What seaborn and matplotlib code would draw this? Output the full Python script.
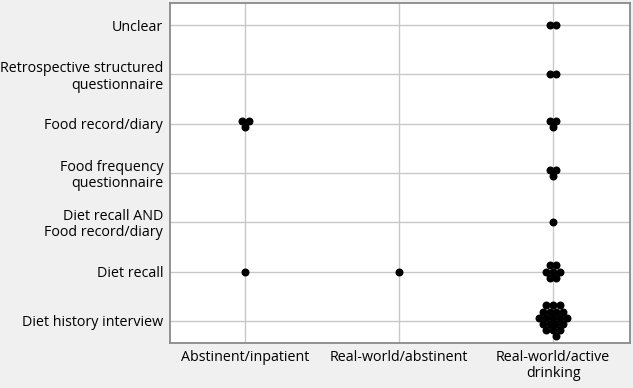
import numpy as np
import pandas as pd
import matplotlib
matplotlib.use("Agg")
import matplotlib.pyplot as plt
import seaborn as sns

# ---- data ----
settings = ["Abstinent/inpatient", "Real-world/abstinent", "Real-world/active\ndrinking"]
methods = [
    "Unclear",
    "Retrospective structured\nquestionnaire",
    "Food record/diary",
    "Food frequency\nquestionnaire",
    "Diet recall AND\nFood record/diary",
    "Diet recall",
    "Diet history interview",
]
count_abstinent_inpatient = [0, 0, 3, 0, 0, 1, 0]
count_realworld_abstinent = [0, 0, 0, 0, 0, 1, 0]
count_realworld_active = [2, 2, 3, 3, 1, 7, 20]
counts = [count_abstinent_inpatient, count_realworld_abstinent, count_realworld_active]

# ---- hexagonal packing layout (like a 2-D beeswarm) ----
def hex_sites(n):
    pts = []
    for r in range(-6, 7):
        for c in range(-6, 7):
            x = c + (0.5 if r % 2 else 0.0)
            y = r * np.sqrt(3) / 2
            pts.append((x, y))

    def key(p):
        d = round(np.hypot(*p), 3)
        if d < 1.5:
            return (d, round(np.degrees(np.arctan2(p[1], p[0])) % 360, 3), 0)
        return (d, -round(p[1], 3), -p[0])

    pts.sort(key=key)
    sel = np.array(pts[:n]) if n else np.zeros((0, 2))
    if n:
        # centre the cluster on its bounding box
        sel = sel - (sel.max(axis=0) + sel.min(axis=0)) / 2
    return sel

PX_X = 154.0   # pixels per x category
PX_Y = 49.0    # pixels per y category
SP_X = 6.8     # horizontal pixels between dot centers
SP_Y = 7.1     # lattice unit vertically (row spacing = SP_Y * 0.866)

rows = []
for si, setting in enumerate(settings):
    for mi, method in enumerate(methods):
        n = counts[si][mi]
        for (hx, hy) in hex_sites(n):
            rows.append({
                "setting": setting, "method": method,
                "x": si + hx * SP_X / PX_X,
                "y": mi + hy * SP_Y / PX_Y,
            })
df = pd.DataFrame(rows)

# ---- plot ----
sns.set_style("white")
plt.rcParams["font.family"] = ["Open Sans", "DejaVu Sans"]

fig = plt.figure(figsize=(6.33, 3.88), dpi=100, facecolor="#f0f0f0")
ax = fig.add_axes([170 / 633, 1 - 343 / 388, 460 / 633, 340 / 388])
ax.set_facecolor("white")

sns.scatterplot(data=df, x="x", y="y", ax=ax, color="black", s=33,
                linewidth=0, legend=False, zorder=3)

ax.set_xlim(-0.49, 2.5)
ax.set_ylim(len(methods) - 0.55, -0.45)
ax.set_xticks(range(len(settings)))
ax.set_xticklabels(settings, fontsize=10.3, linespacing=1.1)
ax.set_yticks(range(len(methods)))
ax.set_yticklabels(methods, fontsize=10.3, linespacing=1.1, ha="right")
ax.set_xlabel("")
ax.set_ylabel("")
ax.grid(True, color="#c8c8c8", linewidth=1.0, zorder=0)
ax.set_axisbelow(True)
ax.tick_params(length=0, pad=5, colors="black")
for sp in ax.spines.values():
    sp.set_color("#8a8a8a")
    sp.set_linewidth(1.3)

fig.savefig("out.png", dpi=100, facecolor=fig.get_facecolor())
